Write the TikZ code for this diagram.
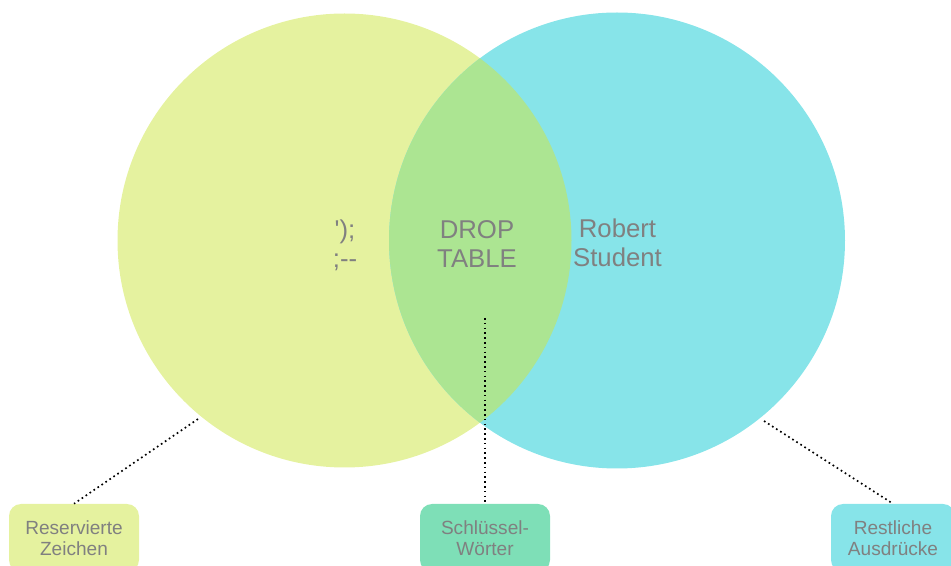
\documentclass[tikz,border=0pt]{standalone}
\usepackage{fontspec}
\setmainfont{Liberation Sans}[Ligatures=TeXOff]
\definecolor{setA}{HTML}{E5F29F}
\definecolor{setB}{HTML}{87E4E9}
\definecolor{setAB}{HTML}{ACE592}
\definecolor{keyfill}{HTML}{7EDFB7}
\definecolor{labelgray}{HTML}{808080}
\begin{document}
\begin{tikzpicture}[x=0.75pt,y=-0.75pt,
  setlabel/.style={text=labelgray,align=center,inner sep=0pt,
    font=\fontsize{19.3pt}{21.5pt}\selectfont},
  legendbox/.style={rounded corners=9pt,minimum width=97.5pt,minimum height=51pt,
    text=labelgray,align=center,inner sep=0pt,
    font=\fontsize{14.3pt}{15.9pt}\selectfont},
  leader/.style={black,line width=1.25pt,dash pattern=on 1.25pt off 2.35pt}]
\useasboundingbox (0,0) rectangle (951,566);

% the two sets and their intersection
\fill[setA] (344.5,240.5) circle[radius=227];
\fill[setB] (617,240.5) circle[radius=228];
\begin{scope}
  \clip (344.5,240.5) circle[radius=227];
  \fill[setAB] (617,240.5) circle[radius=228];
\end{scope}

% contents of the regions
\node[setlabel] (chars) at (345,245.5) {');\\;--};
\node[setlabel] (keywords) at (477,244.2) {DROP\\TABLE};
\node[setlabel] (rest) at (617.5,243) {Robert\\Student};

% legend boxes
\node[legendbox,fill=setA] (boxA) at (74,538) {Reservierte\\Zeichen};
\node[legendbox,fill=keyfill] (boxAB) at (485,538) {Schlüssel-\\Wörter};
\node[legendbox,fill=setB,minimum width=93pt] (boxB) at (893,538) {Restliche\\Ausdrücke};

% leader lines from the regions to their legend boxes
\coordinate (pA) at (198,419);
\coordinate (pAB) at (485,318);
\coordinate (pB) at (764,421);
\draw[leader] (pA) -- (boxA.north);
\draw[leader] (pAB) -- (boxAB.north);
\draw[leader] (pB) -- (boxB.north);
\end{tikzpicture}
\end{document}
